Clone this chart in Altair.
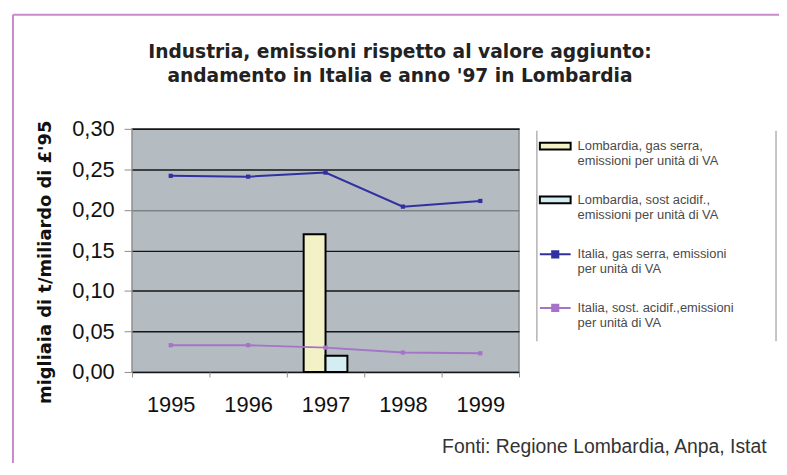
import altair as alt
import pandas as pd

# ---------------- data ----------------
years = ["1995", "1996", "1997", "1998", "1999"]
italia_gas = [0.242, 0.241, 0.246, 0.204, 0.211]
italia_acid = [0.033, 0.033, 0.030, 0.024, 0.023]
lomb_year = "1997"
lomb_values = [0.170, 0.020]

bar_series = ["Lombardia, gas serra,\nemissioni per unità di VA",
              "Lombardia, sost acidif.,\nemissioni per unità di VA"]
line_series = ["Italia, gas serra, emissioni\nper unità di VA",
               "Italia, sost. acidif.,emissioni\nper unità di VA"]
y_ticks = [0.0, 0.05, 0.10, 0.15, 0.20, 0.25, 0.30]

title_lines = ["Industria, emissioni rispetto al valore aggiunto:",
               "andamento in Italia e anno '97 in Lombardia"]
y_title = "migliaia di t/miliardo di £'95"
source = "Fonti: Regione Lombardia, Anpa, Istat"

bar_colors = ["#f2f2c6", "#d3edf2"]
line_colors = ["#3030a0", "#a573c8"]

df_bars = pd.DataFrame({"year": [lomb_year, lomb_year],
                        "value": lomb_values,
                        "series": bar_series})
df_lines = pd.DataFrame({
    "year": years + years,
    "value": italia_gas + italia_acid,
    "series": [line_series[0]] * 5 + [line_series[1]] * 5,
})

# ---------------- encodings ----------------
x_enc = alt.X(
    "year:N",
    scale=alt.Scale(type="band", domain=years, paddingInner=0, paddingOuter=0),
    axis=alt.Axis(
        tickBand="extent", labelAngle=0, labelFont="Liberation Sans",
        labelFontSize=22, labelColor="#111111", labelPadding=18,
        tickSize=5, tickColor="#8c8c8c", domain=False, grid=False,
        title=source, titleX=639, titleY=75, titleAlign="right",
        titleBaseline="middle", titleFont="Liberation Sans",
        titleFontSize=19.5, titleFontWeight="normal", titleColor="#333333",
    ),
)
y_enc = alt.Y(
    "value:Q",
    scale=alt.Scale(domain=[0, 0.30], nice=False),
    axis=alt.Axis(
        values=y_ticks,
        labelExpr="replace(format(datum.value, '.2f'), '.', ',')",
        labelFont="Liberation Sans", labelFontSize=22, labelColor="#111111",
        labelPadding=10, tickSize=8, tickColor="#8c8c8c", domain=False,
        grid=True, gridWidth=1.5,
        gridColor={"condition": {"test": "abs(datum.value - 0.2) < 0.001",
                                 "value": "#7d8488"},
                   "value": "#151515"},
        title=y_title, titleFont="DejaVu Sans", titleFontSize=18,
        titleFontWeight="bold", titleColor="#111111", titleAngle=-90,
        titleX=-87, titleY=134, titleAlign="center", titleBaseline="middle",
    ),
)

legend_common = dict(
    orient="none", title=None, labelFont="Liberation Sans", labelFontSize=13,
    labelColor="#4a4a4a", labelLimit=260, labelOffset=6, padding=0,
    rowPadding=15, labelExpr="split(datum.label, '\\n')",
)

bars = alt.Chart(df_bars).mark_bar(stroke="black", strokeWidth=2).encode(
    x=x_enc,
    xOffset=alt.XOffset("series:N", scale=alt.Scale(domain=bar_series,
                                                    paddingInner=0,
                                                    paddingOuter=0.77)),
    y=y_enc,
    fill=alt.Fill("series:N",
                  scale=alt.Scale(domain=bar_series, range=bar_colors),
                  legend=alt.Legend(legendX=410, legendY=1,
                                    symbolType="M-1,-0.22H1V0.22H-1Z",
                                    symbolSize=961, symbolStrokeColor="black",
                                    symbolStrokeWidth=2, **legend_common)),
)

lines = alt.Chart(df_lines).mark_line(
    strokeWidth=2,
    point=alt.OverlayMarkDef(shape="square", size=18, filled=True),
).encode(
    x=x_enc,
    y=y_enc,
    color=alt.Color("series:N",
                    scale=alt.Scale(domain=line_series, range=line_colors),
                    legend=alt.Legend(legendX=410, legendY=110,
                                      symbolType="M-1,0H1M-0.2,-0.2H0.2V0.2H-0.2Z",
                                      symbolSize=961, symbolStrokeWidth=2,
                                      **legend_common)),
)

deco = pd.DataFrame({"d": [0]})
pink = "#c98bc9"
frame_top = alt.Chart(deco).mark_rule(color=pink, strokeWidth=2).encode(
    x=alt.value(-120), x2=alt.value(700), y=alt.value(-115))
frame_left = alt.Chart(deco).mark_rule(color=pink, strokeWidth=2).encode(
    x=alt.value(-120), y=alt.value(-115), y2=alt.value(400))
leg_left = alt.Chart(deco).mark_rule(color="#a0a0a0", strokeWidth=1.2).encode(
    x=alt.value(408), y=alt.value(2), y2=alt.value(214))
leg_right = alt.Chart(deco).mark_rule(color="#a0a0a0", strokeWidth=1.2).encode(
    x=alt.value(649), y=alt.value(2), y2=alt.value(214))

chart = alt.layer(bars, lines, frame_top, frame_left, leg_left, leg_right).properties(
    width=390,
    height=245,
    autosize=alt.AutoSizeParams(type="none"),
    padding={"left": 125, "top": 120, "right": 262, "bottom": 90},
    background="white",
    title=alt.TitleParams(
        text=title_lines, font="DejaVu Sans", fontSize=18.8, fontWeight="bold",
        color="#222222", anchor="middle", frame="group", dx=75, offset=0,
        dy=73, lineHeight=25,
    ),
).configure_view(
    fill="#b4bcc1", stroke="#8c8c8c", strokeWidth=1.5
)

chart.save("out.html", embed_options={"renderer": "svg", "actions": False})
